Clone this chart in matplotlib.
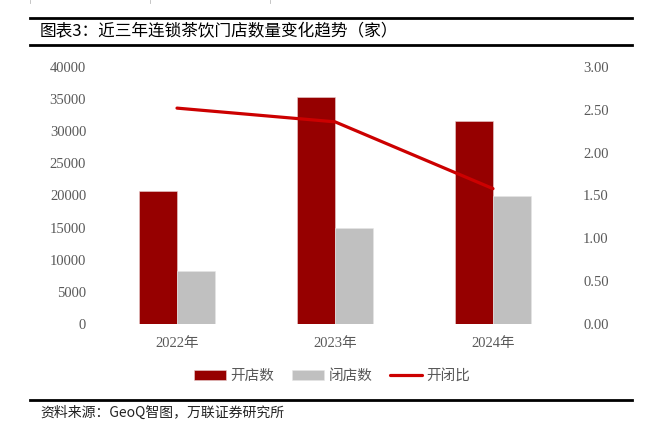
import matplotlib.pyplot as plt
from matplotlib.lines import Line2D
import numpy as np

years = ['2022年', '2023年', '2024年']
open_stores = [20700, 35400, 31600]
closed_stores = [8200, 15000, 20000]
open_close_ratio = [2.52, 2.36, 1.58]

W, H = 655, 421
fig = plt.figure(figsize=(W / 100, H / 100), dpi=100)

num_font = ['Liberation Serif', 'Noto Sans CJK SC']
cjk_font = ['Noto Sans CJK SC', 'DejaVu Sans']
tick_color = '#595959'

ax = fig.add_axes([98 / W, 1 - 324 / H, (572 - 98) / W, (324 - 67) / H])
x = np.arange(len(years))
bw = 0.24
ax.bar(x - bw / 2, open_stores, bw, color='#960000', edgecolor='#e8d0d0', linewidth=0.4, label='开店数')
ax.bar(x + bw / 2, closed_stores, bw, color='#c0c0c0', edgecolor='#e6e6e6', linewidth=0.4, label='闭店数')
ax.set_xlim(-0.5, 2.5)
ax.set_ylim(0, 40000)
ax.set_yticks(np.arange(0, 40001, 5000))
ax.set_xticks(x)
ax.set_xticklabels(years)

ax2 = ax.twinx()
ax2.plot(x, open_close_ratio, color='#cc0000', linewidth=2.3, solid_capstyle='round', label='开闭比')
ax2.set_ylim(0, 3)
ax2.set_yticks(np.arange(0, 3.01, 0.5))
ax2.set_yticklabels([f'{v:.2f}' for v in np.arange(0, 3.01, 0.5)])

for a in (ax, ax2):
    for s in a.spines.values():
        s.set_visible(False)
    a.tick_params(length=0, colors=tick_color, labelsize=10.5)
    for lab in a.get_xticklabels() + a.get_yticklabels():
        lab.set_family(num_font)
ax.tick_params(axis='y', pad=8.5)
ax.tick_params(axis='x', pad=9)
ax2.tick_params(axis='y', pad=8)

h1, l1 = ax.get_legend_handles_labels()
h2, l2 = ax2.get_legend_handles_labels()
leg = fig.legend(h1 + h2, l1 + l2, loc='center', bbox_to_anchor=(332 / W, 1 - 376 / H),
                 ncol=3, frameon=False, handlelength=2.2, handleheight=0.7,
                 handletextpad=0.3, columnspacing=1.2,
                 prop={'family': cjk_font, 'size': 10.5})
for t in leg.get_texts():
    t.set_color(tick_color)

# title bar and footer
fig.add_artist(Line2D([30 / W, 632 / W], [1 - 18 / H, 1 - 18 / H], color='black', linewidth=2))
fig.add_artist(Line2D([30 / W, 632 / W], [1 - 45 / H, 1 - 45 / H], color='black', linewidth=2))
fig.text(40 / W, 1 - 32 / H, '图表3：近三年连锁茶饮门店数量变化趋势（家）', fontsize=12,
         family=cjk_font, va='center', ha='left', color='black')
fig.add_artist(Line2D([30 / W, 632 / W], [1 - 400 / H, 1 - 400 / H], color='black', linewidth=2))
fig.text(40 / W, 1 - 413 / H, '资料来源：GeoQ智图，万联证券研究所', fontsize=10,
         family=cjk_font, va='center', ha='left', color='#222222')

for px in (30, 150, 270):
    fig.add_artist(Line2D([px / W, px / W], [1, 1 - 3 / H], color='#bbbbbb', linewidth=0.6))

fig.savefig('out.png', dpi=100)
